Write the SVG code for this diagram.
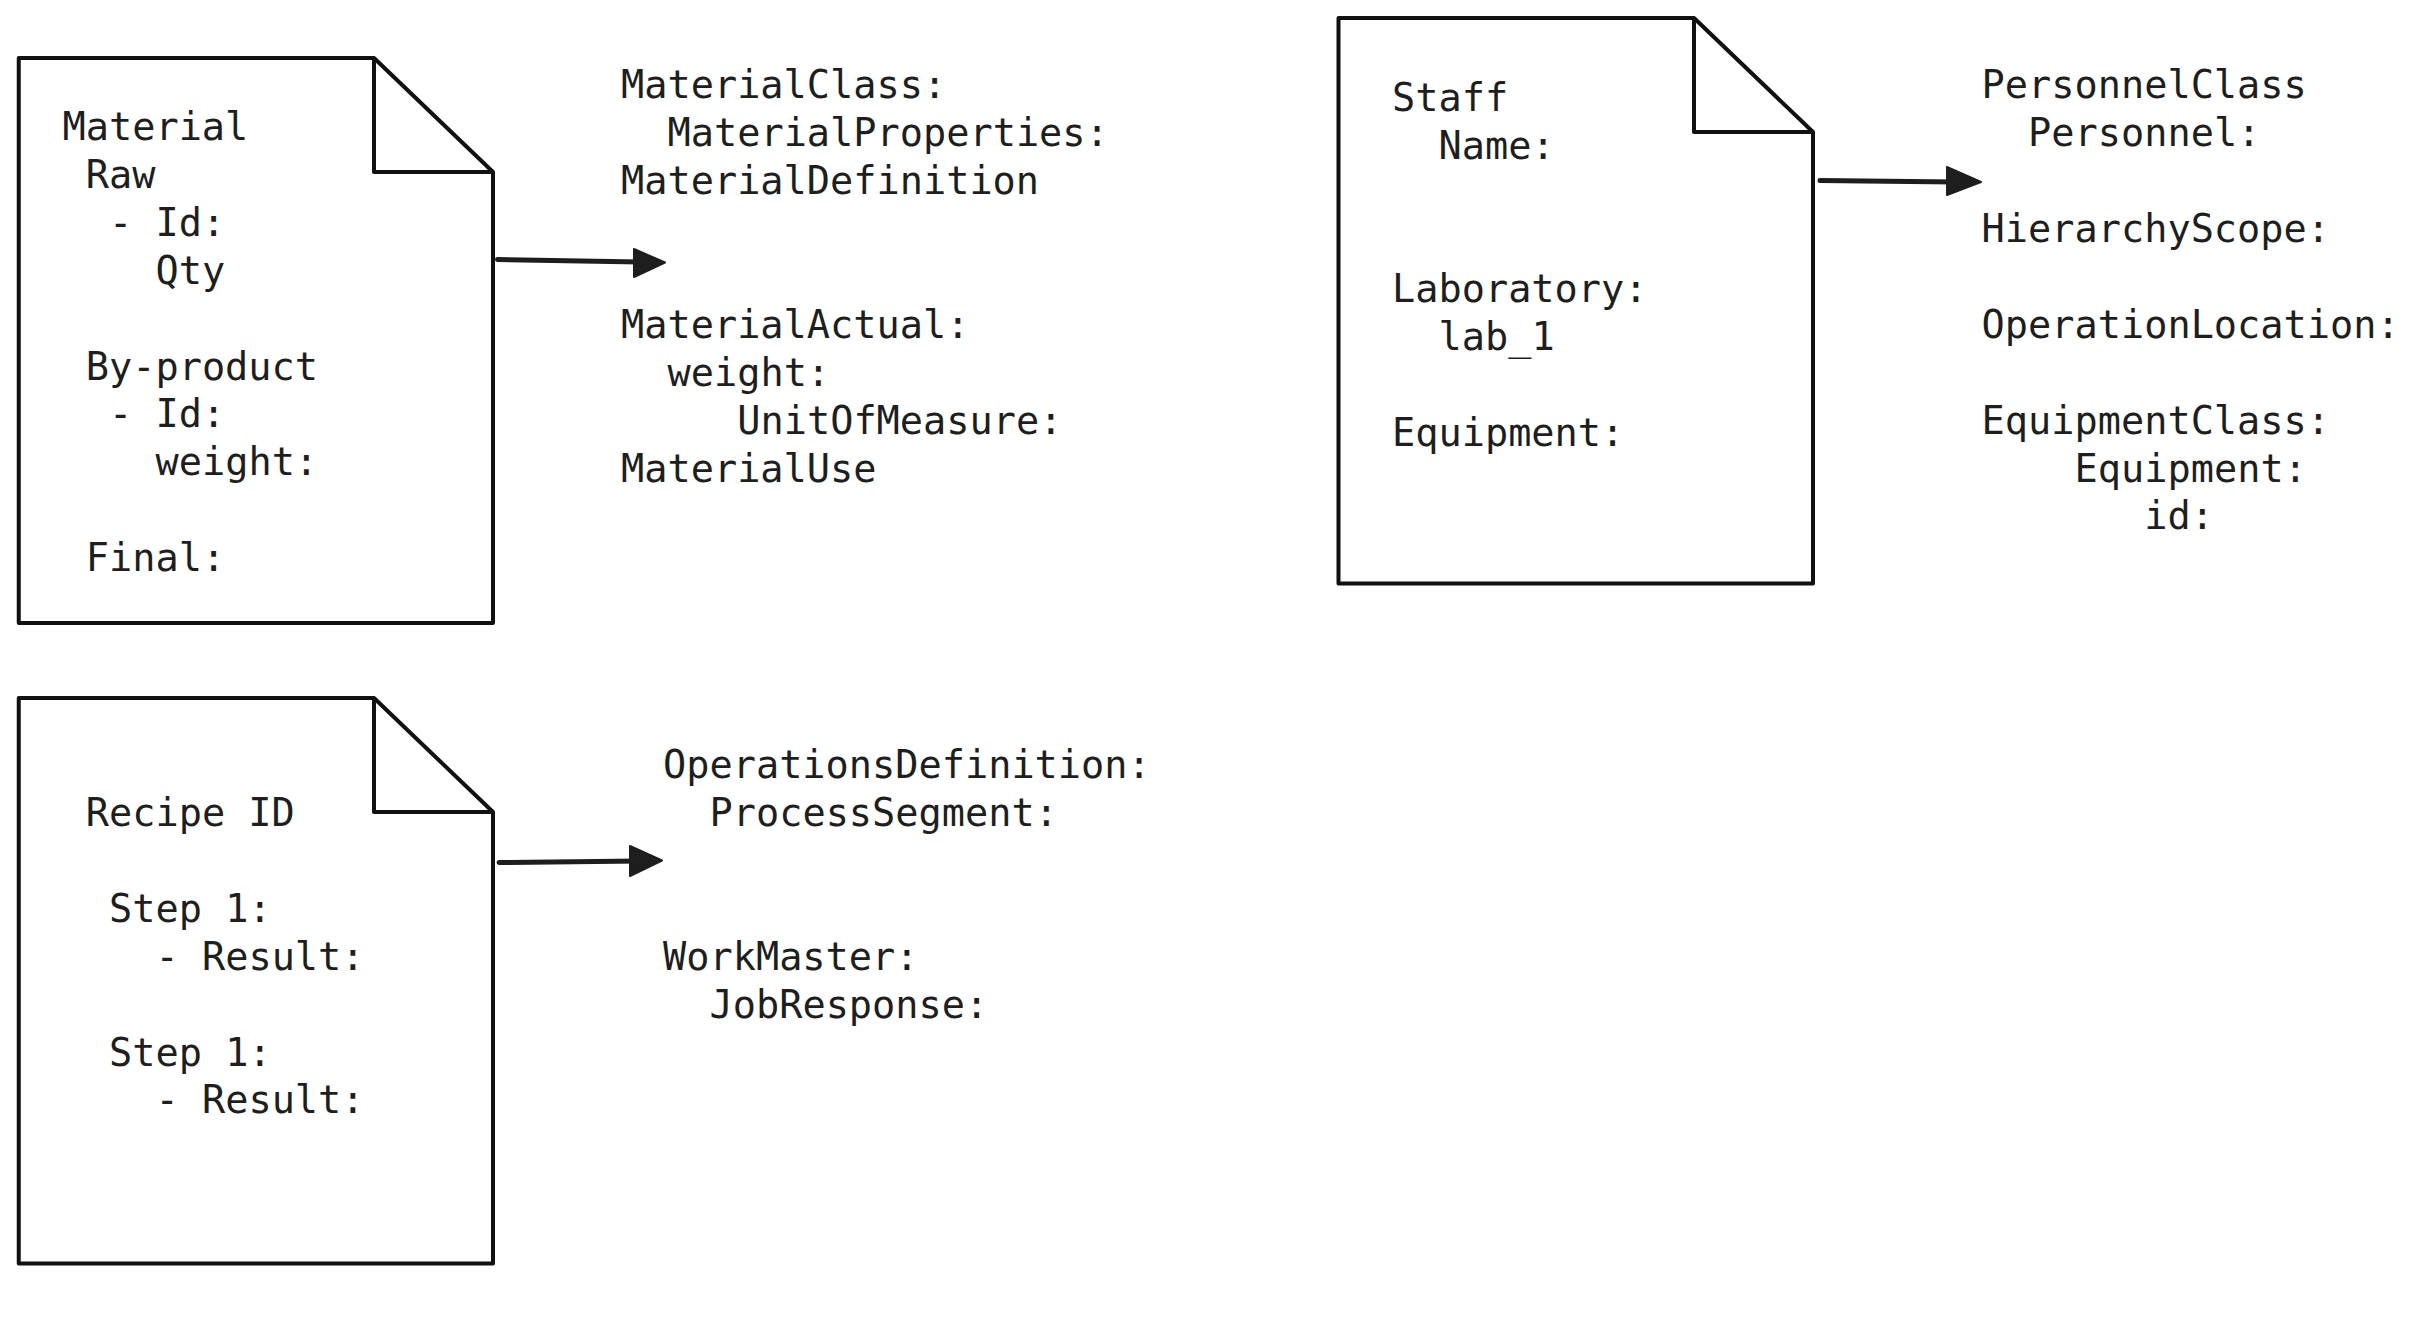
<svg xmlns="http://www.w3.org/2000/svg" width="2422" height="1336" viewBox="0 0 2422 1336">
<style>
.doc{fill:#ffffff;stroke:#111111;stroke-width:4;stroke-linejoin:round}
.fold{fill:none;stroke:#111111;stroke-width:4;stroke-linejoin:round}
.t{font-family:"DejaVu Sans Mono","Liberation Mono",monospace;font-size:38.6px;fill:#1e1e1e}
.ln{fill:none;stroke:#1e1e1e;stroke-width:5;stroke-linecap:round}
.hd{fill:#1e1e1e;stroke:#1e1e1e;stroke-width:2;stroke-linejoin:round}
</style>
<rect width="2422" height="1336" fill="#ffffff"/>
<g id="material-doc">
<path class="doc" d="M18.75,58 H374 L493,172 V623 H18.75 Z"/>
<path class="fold" d="M374,58 V172 H493"/>
<text class="t"><tspan x="62.5" y="140">Material</tspan><tspan x="85.75" y="187.9">Raw</tspan><tspan x="109" y="235.8">- Id:</tspan><tspan x="155.5" y="283.7">Qty</tspan><tspan x="85.75" y="379.5">By-product</tspan><tspan x="109" y="427.4">- Id:</tspan><tspan x="155.5" y="475.3">weight:</tspan><tspan x="85.75" y="571.1">Final:</tspan></text>
</g>
<g id="material-model">
<text class="t"><tspan x="621" y="98.3">MaterialClass:</tspan><tspan x="667.5" y="146.2">MaterialProperties:</tspan><tspan x="621" y="194.1">MaterialDefinition</tspan><tspan x="621" y="337.8">MaterialActual:</tspan><tspan x="667.5" y="385.7">weight:</tspan><tspan x="737.25" y="433.6">UnitOfMeasure:</tspan><tspan x="621" y="481.5">MaterialUse</tspan></text>
</g>
<g id="staff-doc">
<path class="doc" d="M1338.5,18 H1694 L1813,132 V583.5 H1338.5 Z"/>
<path class="fold" d="M1694,18 V132 H1813"/>
<text class="t"><tspan x="1392" y="110.8">Staff</tspan><tspan x="1438.5" y="158.7">Name:</tspan><tspan x="1392" y="302.4">Laboratory:</tspan><tspan x="1438.5" y="350.3">lab_1</tspan><tspan x="1392" y="446.1">Equipment:</tspan></text>
</g>
<g id="personnel-model">
<text class="t"><tspan x="1981.6" y="98.3">PersonnelClass</tspan><tspan x="2028.1" y="146.2">Personnel:</tspan><tspan x="1981.6" y="242">HierarchyScope:</tspan><tspan x="1981.6" y="337.8">OperationLocation:</tspan><tspan x="1981.6" y="433.6">EquipmentClass:</tspan><tspan x="2074.6" y="481.5">Equipment:</tspan><tspan x="2144.35" y="529.4">id:</tspan></text>
</g>
<g id="recipe-doc">
<path class="doc" d="M18.75,698 H374 L493,812 V1263.5 H18.75 Z"/>
<path class="fold" d="M374,698 V812 H493"/>
<text class="t"><tspan x="85.75" y="826">Recipe ID</tspan><tspan x="109" y="921.8">Step 1:</tspan><tspan x="155.5" y="969.7">- Result:</tspan><tspan x="109" y="1065.5">Step 1:</tspan><tspan x="155.5" y="1113.4">- Result:</tspan></text>
</g>
<g id="operations-model">
<text class="t"><tspan x="663" y="778">OperationsDefinition:</tspan><tspan x="709.5" y="825.9">ProcessSegment:</tspan><tspan x="663" y="969.6">WorkMaster:</tspan><tspan x="709.5" y="1017.5">JobResponse:</tspan></text>
</g>
<g id="connectors">
<path class="ln" d="M497.5,259.5 L640,262"/>
<polygon class="hd" points="665,262.5 634,249 634,277"/>
<path class="ln" d="M1820,180.5 L1955,182"/>
<polygon class="hd" points="1981,182 1947,167 1947,195"/>
<path class="ln" d="M499,862.5 L640,861"/>
<polygon class="hd" points="662,860.5 630,846 630,876"/>
</g>
</svg>
